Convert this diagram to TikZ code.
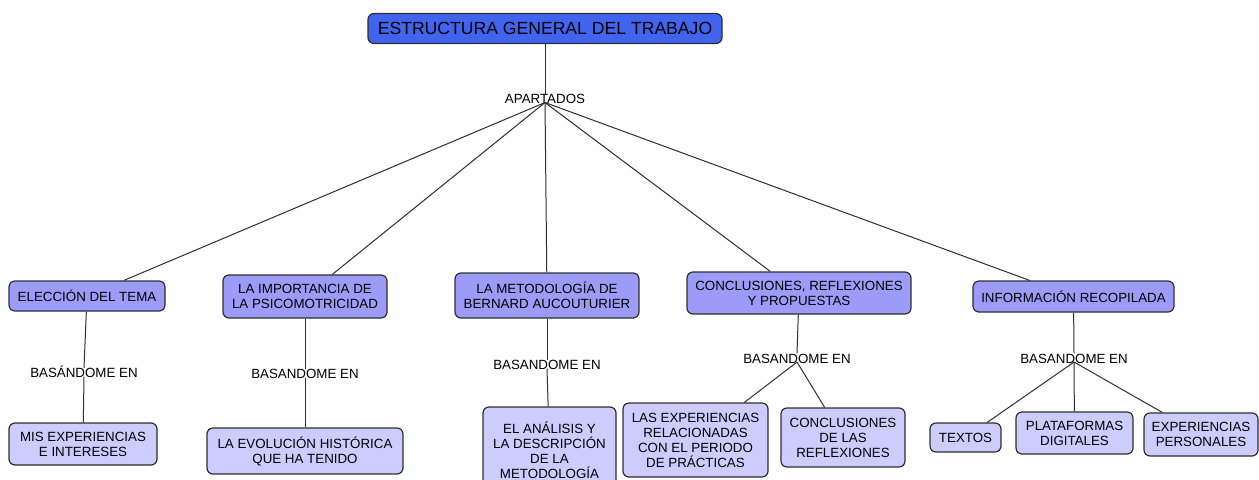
\documentclass[tikz,border=0pt]{standalone}
\usepackage{fontspec}
\setmainfont{Liberation Sans}
\definecolor{titleblue}{HTML}{4164EF}
\definecolor{midblue}{HTML}{9C9CF8}
\definecolor{lightblue}{HTML}{CCCCFF}
\definecolor{edge}{HTML}{2E2E2E}
\begin{document}
\begin{tikzpicture}[x=0.75pt,y=-0.75pt,
  box/.style={draw=edge,line width=0.9pt,rounded corners=4.5pt,align=center,inner sep=0pt,
    font=\fontsize{10}{11.25}\selectfont},
  topbox/.style={box,fill=titleblue,font=\fontsize{13.2}{15}\selectfont},
  midbox/.style={box,fill=midblue},
  leafbox/.style={box,fill=lightblue},
  lab/.style={inner sep=0pt,text height=7.3pt,text depth=0pt,font=\fontsize{10}{11.25}\selectfont},
  conn/.style={draw=edge,line width=0.75pt}]
\clip (0,0) rectangle (1259,479);
\useasboundingbox (0,0) rectangle (1259,479);
% top
\node[topbox,minimum width=265.5pt,minimum height=22.5pt] (title) at (545,28.5) {ESTRUCTURA GENERAL DEL TRABAJO};
\node[lab] (ap) at (545,99) {APARTADOS};
% level 1
\node[midbox,minimum width=117pt,minimum height=22.5pt] (l1a) at (87,296) {ELECCIÓN DEL TEMA};
\node[midbox,minimum width=123pt,minimum height=32.25pt] (l1b) at (305,296.5) {LA IMPORTANCIA DE\\LA PSICOMOTRICIDAD};
\node[midbox,minimum width=138pt,minimum height=33.75pt] (l1c) at (547,295.5) {LA METODOLOGÍA DE\\BERNARD AUCOUTURIER};
\node[midbox,minimum width=168pt,minimum height=31.5pt] (l1d) at (799,293) {CONCLUSIONES, REFLEXIONES\\Y PROPUESTAS};
\node[midbox,minimum width=150.75pt,minimum height=23.25pt] (l1e) at (1073.5,296.5) {INFORMACIÓN RECOPILADA};
% linking labels
\node[lab] (b1) at (84,373) {BASÁNDOME EN};
\node[lab] (b2) at (305,374) {BASANDOME EN};
\node[lab] (b3) at (547,365) {BASANDOME EN};
\node[lab] (b4) at (797,358.5) {BASANDOME EN};
\node[lab] (b5) at (1074,358.5) {BASANDOME EN};
% leaves
\node[leafbox,minimum width=111pt,minimum height=31.5pt] (m1) at (83,444) {MIS EXPERIENCIAS\\E INTERESES};
\node[leafbox,minimum width=147pt,minimum height=34.5pt] (m2) at (305,451) {LA EVOLUCIÓN HISTÓRICA\\QUE HA TENIDO};
\node[leafbox,minimum width=99.75pt,minimum height=64.5pt] (m3) at (549.5,450) {EL ANÁLISIS Y\\LA DESCRIPCIÓN\\DE LA\\METODOLOGÍA};
\node[leafbox,minimum width=108.75pt,minimum height=55.5pt] (m4) at (695.5,440) {LAS EXPERIENCIAS\\RELACIONADAS\\CON EL PERIODO\\DE PRÁCTICAS};
\node[leafbox,minimum width=93pt,minimum height=44.25pt] (m5) at (843,437.5) {CONCLUSIONES\\DE LAS\\REFLEXIONES};
\node[leafbox,minimum width=53.25pt,minimum height=21.75pt] (m6) at (965.5,437.5) {TEXTOS};
\node[leafbox,minimum width=87.75pt,minimum height=31.5pt] (m7) at (1074.5,433) {PLATAFORMAS\\DIGITALES};
\node[leafbox,minimum width=85.5pt,minimum height=32.25pt] (m8) at (1201,434.5) {EXPERIENCIAS\\PERSONALES};
% connectors
\coordinate (apo) at ([yshift=1.2pt]ap.south);
\draw[conn] (title) -- (ap.north);
\foreach \n in {l1a,l1b,l1c,l1d,l1e} \draw[conn] (apo) -- (\n);
\draw[conn] (l1a) -- (b1.north);
\draw[conn] (l1b) -- (b2.north);
\draw[conn] (l1c) -- (b3.north);
\draw[conn] (l1d) -- (b4.north);
\draw[conn] (l1e) -- (b5.north);
\draw[conn] ([yshift=1.2pt]b1.south) -- (m1);
\draw[conn] ([yshift=1.2pt]b2.south) -- (m2);
\draw[conn] ([yshift=1.2pt]b3.south) -- (m3);
\coordinate (b4o) at ([yshift=1.2pt]b4.south);
\draw[conn] (b4o) -- (m4);
\draw[conn] (b4o) -- (m5);
\coordinate (b5o) at ([yshift=1.2pt]b5.south);
\draw[conn] (b5o) -- (m6);
\draw[conn] (b5o) -- (m7);
\draw[conn] (b5o) -- (m8);
\end{tikzpicture}
\end{document}
